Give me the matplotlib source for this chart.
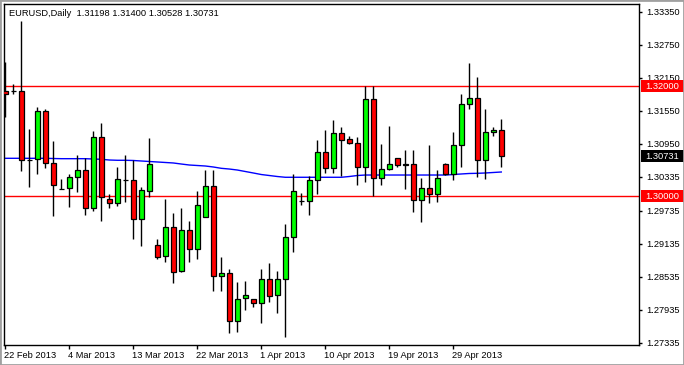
import matplotlib
matplotlib.use("Agg")
import matplotlib.pyplot as plt
import matplotlib.transforms as mtransforms
from matplotlib.patches import Rectangle
import numpy as np

# ---------------- data ----------------
opens = [1.31919, 1.31920, 1.31914, 1.30665, 1.30672, 1.31550, 1.30599, 1.30135, 1.30144, 1.30345,
         1.30472, 1.29780, 1.31077, 1.29945, 1.29872, 1.30300, 1.30290, 1.29581, 1.30101, 1.29108,
         1.28908, 1.29435, 1.28635, 1.29386, 1.29035, 1.29628, 1.30186, 1.28556, 1.28599, 1.27738,
         1.28144, 1.28126, 1.28054, 1.28490, 1.28199, 1.28490, 1.29253, 1.29914, 1.29908, 1.30290,
         1.30799, 1.30508, 1.31144, 1.31035, 1.30963, 1.30526, 1.31763, 1.30326, 1.30501, 1.30689,
         1.30578, 1.30580, 1.29926, 1.30144, 1.30035, 1.30580, 1.30399, 1.30926, 1.31672, 1.31781,
         1.30654, 1.31163, 1.31198]
highs = [1.32441, 1.32036, 1.33192, 1.31223, 1.31628, 1.31581, 1.31005, 1.30314, 1.30410, 1.30750,
         1.30695, 1.31186, 1.31332, 1.30041, 1.30532, 1.30750, 1.30659, 1.30174, 1.31065, 1.29223,
         1.29950, 1.29701, 1.29780, 1.29544, 1.30095, 1.30477, 1.30477, 1.28895, 1.28683, 1.28446,
         1.28465, 1.28140, 1.28683, 1.28781, 1.28641, 1.29495, 1.30405, 1.30065, 1.30374, 1.31023,
         1.31205, 1.31386, 1.31265, 1.31095, 1.31083, 1.32005, 1.32005, 1.30950, 1.31277, 1.30700,
         1.30841, 1.30841, 1.30338, 1.30932, 1.30477, 1.30605, 1.31168, 1.31859, 1.32428, 1.32168,
         1.31586, 1.31259, 1.31400]
lows = [1.31441, 1.31854, 1.30465, 1.30174, 1.30399, 1.30519, 1.29647, 1.30125, 1.29810, 1.30083,
        1.29654, 1.29737, 1.29544, 1.29780, 1.29828, 1.29901, 1.29223, 1.29101, 1.29992, 1.28865,
        1.28810, 1.28428, 1.28620, 1.28799, 1.28865, 1.29617, 1.28283, 1.28270, 1.27510, 1.27538,
        1.27932, 1.27992, 1.27701, 1.28083, 1.27883, 1.27446, 1.28992, 1.29841, 1.29665, 1.30035,
        1.30428, 1.30428, 1.30374, 1.30950, 1.30199, 1.30265, 1.30005, 1.30199, 1.30477, 1.30526,
        1.30132, 1.29719, 1.29537, 1.29883, 1.29901, 1.30395, 1.30295, 1.30537, 1.31592, 1.30356,
        1.30319, 1.31095, 1.30528]
closes = [1.31854, 1.31914, 1.30654, 1.30659, 1.31550, 1.30599, 1.30199, 1.30132, 1.30350, 1.30472,
          1.29780, 1.31077, 1.29980, 1.29872, 1.30308, 1.30295, 1.29581, 1.30108, 1.30586, 1.28901,
          1.29435, 1.28628, 1.29386, 1.29035, 1.29835, 1.30186, 1.28556, 1.28599, 1.27738, 1.28126,
          1.28205, 1.28054, 1.28490, 1.28186, 1.28490, 1.29253, 1.30090, 1.29908, 1.30290, 1.30799,
          1.30508, 1.31144, 1.31023, 1.30963, 1.30526, 1.31763, 1.30326, 1.30501, 1.30580, 1.30563,
          1.30574, 1.29926, 1.30144, 1.30035, 1.30326, 1.30399, 1.30926, 1.31672, 1.31781, 1.30654,
          1.31163, 1.31199, 1.30731]
moving_avg = [1.30690, 1.30690, 1.30690, 1.30690, 1.30690, 1.30690, 1.30686, 1.30683, 1.30683, 1.30683,
              1.30683, 1.30677, 1.30672, 1.30659, 1.30654, 1.30654, 1.30650, 1.30641, 1.30632, 1.30623,
              1.30614, 1.30605, 1.30586, 1.30568, 1.30559, 1.30550, 1.30532, 1.30508, 1.30495, 1.30477,
              1.30450, 1.30423, 1.30395, 1.30377, 1.30359, 1.30345, 1.30345, 1.30345, 1.30345, 1.30345,
              1.30345, 1.30345, 1.30345, 1.30359, 1.30377, 1.30386, 1.30386, 1.30386, 1.30386, 1.30386,
              1.30386, 1.30386, 1.30386, 1.30386, 1.30386, 1.30386, 1.30395, 1.30405, 1.30414, 1.30417,
              1.30423, 1.30432, 1.30441]
date_tick_bars = [0, 8, 16, 24, 32, 40, 48, 56]
date_tick_labels = ["22 Feb 2013", "4 Mar 2013", "13 Mar 2013", "22 Mar 2013",
                    "1 Apr 2013", "10 Apr 2013", "19 Apr 2013", "29 Apr 2013"]
price_ticks = [1.33350, 1.32750, 1.32150, 1.31550, 1.30950, 1.30350,
               1.29735, 1.29135, 1.28535, 1.27935, 1.27335]
price_tick_labels = ["1.33350", "1.32750", "1.32150", "1.31550", "1.30950", "1.30335",
                     "1.29735", "1.29135", "1.28535", "1.27935", "1.27335"]
levels = [1.32000, 1.30000]
last_price = 1.30731
title = "EURUSD,Daily  1.31198 1.31400 1.30528 1.30731"

# ---------------- drawing ----------------
FONT = ["Liberation Sans", "DejaVu Sans"]
plt.rcParams["font.family"] = FONT
FS = 6.7

W, H = 684, 365
fig = plt.figure(figsize=(W / 100, H / 100), dpi=100)
fig.patch.set_facecolor("white")

ax_l, ax_r, ax_t, ax_b = 4, 639, 4, 345
ax = fig.add_axes([ax_l / W, (H - ax_b) / H, (ax_r - ax_l) / W, (ax_b - ax_t) / H])
ax.set_facecolor("white")

n = len(opens)
x = np.arange(n)
o = np.array(opens); h = np.array(highs); l = np.array(lows); c = np.array(closes)

# wicks
ax.vlines(x, l, h, color="black", linewidth=1.0, zorder=3)
# bodies
up = c >= o
body_bottom = np.minimum(o, c)
body_height = np.abs(c - o)
colors = np.where(up, "#00ff00", "#ff0000")
ax.bar(x, body_height, bottom=body_bottom, width=0.66, color=colors,
       edgecolor="black", linewidth=0.9, zorder=4)

# moving average
ax.plot(x, moving_avg, color="#0000ff", linewidth=1.0, zorder=2)

# horizontal levels
for lv in levels:
    ax.axhline(lv, color="#ff0000", linewidth=1.0, zorder=1)

# limits: pixel mapping
px_per_unit = 5500.0
ax.set_ylim(1.3335 - (ax_b - 12) / px_per_unit, 1.3335 + (12 - ax_t) / px_per_unit)
x0_px = 5.3
bar_px = 8.0
ax.set_xlim((ax_l - x0_px) / bar_px, (ax_r - x0_px) / bar_px)

# axis styling
for s in ax.spines.values():
    s.set_color("black")
    s.set_linewidth(1.0)
ax.yaxis.tick_right()
ax.set_yticks(price_ticks)
ax.set_yticklabels(price_tick_labels)
ax.tick_params(axis="y", direction="out", length=2.2, width=1, color="black",
               labelsize=FS, pad=2.9, labelcolor="black")
ax.set_xticks(date_tick_bars)
ax.set_xticklabels(date_tick_labels, ha="left")
ax.tick_params(axis="x", direction="out", length=2.9, width=1, color="black",
               labelsize=FS, pad=1.5, labelcolor="black")
offset = mtransforms.ScaledTranslation(-1.5 / 100, 0, fig.dpi_scale_trans)
for lab in ax.get_xticklabels():
    lab.set_transform(lab.get_transform() + offset)

# title text
ax.text(5 / (ax_r - ax_l), 1 - 9 / (ax_b - ax_t), title, transform=ax.transAxes,
        fontsize=FS, ha="left", va="center", color="black", zorder=6)

# price boxes on the right axis
blend = mtransforms.blended_transform_factory(ax.transAxes, ax.transData)
box_x = (641 - ax_l) / (ax_r - ax_l)
box_w = 43 / (ax_r - ax_l)
box_h = 12 / px_per_unit
for val, fc in [(levels[0], "#ff0000"), (levels[1], "#ff0000"), (last_price, "black")]:
    ax.add_patch(Rectangle((box_x, val - box_h / 2), box_w, box_h, transform=blend,
                           facecolor=fc, edgecolor="none", clip_on=False, zorder=10))
    ax.text(box_x + box_w / 2, val, f"{val:.5f}", transform=blend, color="white",
            fontsize=FS, ha="center", va="center", clip_on=False, zorder=11)

# outer grey frame
fig.patches.append(Rectangle((0, 0), 1, 1, transform=fig.transFigure, fill=False,
                             edgecolor="#a0a0a0", linewidth=2.0, zorder=20))

fig.savefig("out.png", dpi=100, facecolor="white")
